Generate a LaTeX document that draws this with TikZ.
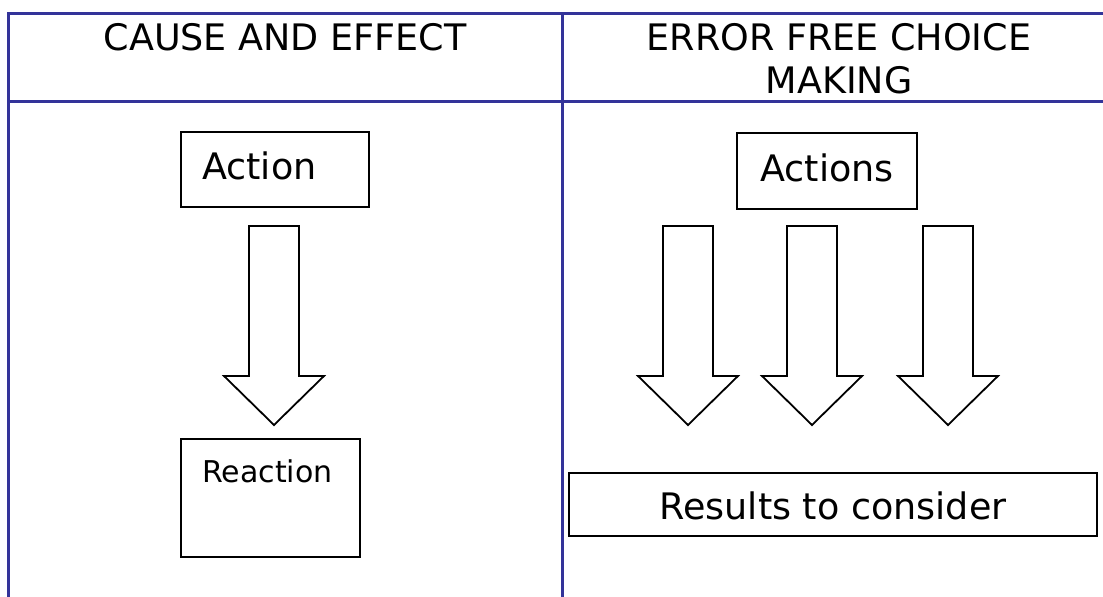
\documentclass[tikz,border=0pt]{standalone}
\usepackage{fontspec}
\setmainfont{DejaVu Sans}
\definecolor{tblue}{RGB}{51,51,153}
\tikzset{
  grid/.style={draw=tblue, line width=3pt},
  box/.style={draw=black, line width=2pt, rectangle, inner sep=0pt},
  arrowline/.style={draw=black, line width=1.8pt, line join=miter},
  big/.style={font=\fontsize{36.5}{43}\selectfont, inner sep=0pt},
  mid/.style={font=\fontsize{30}{36}\selectfont, inner sep=0pt},
  downarrow/.pic={\draw[arrowline] (-25,0) -- (25,0) -- (25,150) -- (50,150) -- (0,199) -- (-50,150) -- (-25,150) -- cycle;}
}
\begin{document}
\begin{tikzpicture}[x=1pt,y=-1pt]
\useasboundingbox (0,0) rectangle (1103,597);
\fill[white] (0,0) rectangle (1103,597);
% table
\coordinate (tl) at (8,13);
\coordinate (tr) at (1110,13);
\coordinate (hl) at (8,101);
\coordinate (hr) at (1110,101);
\coordinate (bl) at (8,600);
\coordinate (mt) at (562,13);
\coordinate (mb) at (562,600);
\draw[grid] (tr) -- (tl) -- (bl);
\draw[grid] (hl) -- (hr);
\draw[grid] (mt) -- (mb);
% headers
\node[big, anchor=base] (h1) at (285,50) {CAUSE AND EFFECT};
\node[big, anchor=base] (h2a) at (839,50) {ERROR FREE CHOICE};
\node[big, anchor=base] (h2b) at (839,93) {MAKING};
% left column
\node[box, minimum width=188pt, minimum height=75pt] (act) at (275,169.5) {};
\node[big, anchor=base west] (actt) at (202,179) {Action};
\pic at (274,226) {downarrow};
\node[box, minimum width=179pt, minimum height=118pt] (rea) at (270.5,498) {};
\node[mid, anchor=base west] (reat) at (202,482) {Reaction};
% right column
\node[box, minimum width=180pt, minimum height=76pt] (acts) at (827,171) {};
\node[big, anchor=base] (actst) at (827,181) {Actions};
\pic at (688,226) {downarrow};
\pic at (812,226) {downarrow};
\pic at (948,226) {downarrow};
\node[box, minimum width=528pt, minimum height=63pt] (res) at (833,504.5) {};
\node[big, anchor=base] (rest) at (833,519) {Results to consider};
\end{tikzpicture}
\end{document}
